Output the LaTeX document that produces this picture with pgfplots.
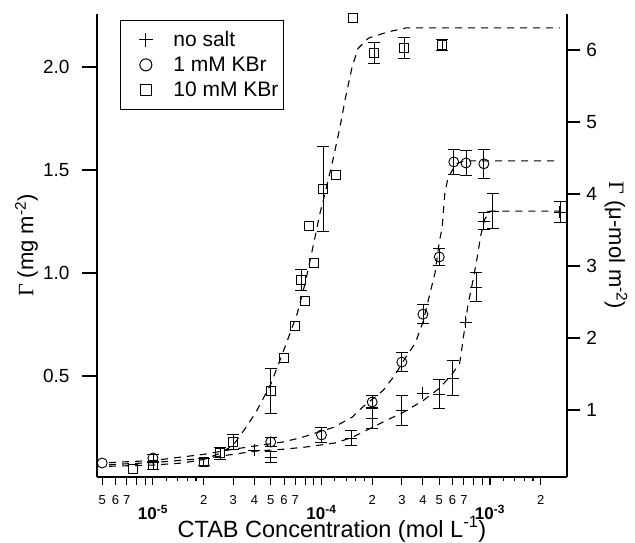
\documentclass[border=0pt]{standalone}
\usepackage{fontspec}
\setmainfont{Liberation Sans}
\newfontfamily\serifgam{Liberation Serif}
\usepackage{pgfplots}
\pgfplotsset{compat=1.18}
\usepackage{pgfplotstable}

% no salt
\pgfplotstableread{
x y e
5e-5 0.107 0.025
1.5e-4 0.199 0.035
2e-4 0.296 0.05
3e-4 0.335 0.073
5e-4 0.413 0.07
6e-4 0.49 0.085
8.3e-4 0.932 0.07
9.2e-4 1.252 0.04
1.04e-3 1.30 0.085
2.6e-3 1.296 0.05
}\nosaltE
\pgfplotstableread{
x y
4e-5 0.141
4e-4 0.417
7.2e-4 0.762
}\nosalt

% 1 mM KBr
\pgfplotstableread{
x y e
1e-5 0.102 0.02
5e-5 0.18 0.02
1e-4 0.214 0.035
2e-4 0.374 0.03
3e-4 0.568 0.045
4e-4 0.80 0.046
5e-4 1.078 0.04
6.1e-4 1.539 0.06
7.2e-4 1.534 0.06
9.2e-4 1.53 0.07
}\oneE
\pgfplotstableread{
x y
5e-6 0.078
}\one

% 10 mM KBr
\pgfplotstableread{
x y e
1e-5 0.068 0.02
2e-5 0.083 0.015
2.5e-5 0.126 0.03
3e-5 0.18 0.035
5e-5 0.427 0.11
7.6e-5 0.966 0.05
1.02e-4 1.408 0.205
2.05e-4 2.068 0.05
3.09e-4 2.092 0.05
5.19e-4 2.107 0.025
}\tenE
\pgfplotstableread{
x y
7.6e-6 0.049
6e-5 0.587
7e-5 0.743
8e-5 0.864
8.4e-5 1.228
9e-5 1.049
1.22e-4 1.476
1.54e-4 2.238
}\ten

\newcommand\dec[1]{\raisebox{-25pt}[0pt][0pt]{\fontsize{17}{17}\selectfont\bfseries 10\textsuperscript{#1}}}

\begin{document}
\begin{tikzpicture}
\pgfplotsset{
  fitline/.style={black, line width=1.1pt, dash pattern=on 7pt off 6pt},
  pts/.style={black, only marks, line width=0.9pt, mark options={fill=white, solid}},
  ebar/.style={error bars/.cd, y dir=both, y explicit,
    error mark options={rotate=90, mark size=6pt, line width=0.8pt},
    error bar style={line width=0.8pt, solid}},
}
\begin{axis}[
  name=ax,
  scale only axis, width=470pt, height=463pt,
  xmode=log, xmin=4.656e-6, xmax=2.864e-3,
  ymin=0.010, ymax=2.257,
  axis x line*=bottom, axis y line*=left,
  axis line style={line width=1.6pt},
  tick align=outside,
  tick style={black, line width=1.1pt},
  major tick length=15pt,
  x tick style={/pgfplots/major tick length=8pt},
  minor tick length=4pt,
  ytick={0.5,1.0,1.5,2.0},
  yticklabels={0.5,1.0,1.5,2.0},
  y tick label style={font=\fontsize{19}{19}\selectfont, xshift=-9pt},
  xtick={5e-6,6e-6,7e-6,8e-6,9e-6,2e-5,3e-5,4e-5,5e-5,6e-5,7e-5,8e-5,9e-5,2e-4,3e-4,4e-4,5e-4,6e-4,7e-4,8e-4,9e-4,2e-3},
  xticklabels={5,6,7,{},{},2,3,4,5,6,7,{},{},2,3,4,5,6,7,{},{},2},
  x tick label style={font=\fontsize{13}{13}\selectfont},
  minor xtick={1.2e-5,1.4e-5,1.6e-5,1.8e-5,1.2e-4,1.4e-4,1.6e-4,1.8e-4,1.2e-3,1.4e-3,1.6e-3,1.8e-3},
  extra x ticks={1e-5,1e-4,1e-3},
  extra x tick labels={\dec{-5},\dec{-4},\dec{-3}},
  extra x tick style={/pgfplots/major tick length=14pt},
  /pgf/number format/assume math mode=true,
  xlabel={CTAB Concentration (mol L\textsuperscript{-1})},
  xlabel style={font=\fontsize{23.5}{23.5}\selectfont, at={(axis description cs:0.5,-0.1296)}, anchor=base},
  ylabel={{\serifgam Γ} (mg m\textsuperscript{-2})},
  ylabel style={font=\fontsize{22}{22}\selectfont, at={(axis description cs:-0.150,0.5)}, anchor=center},
  legend style={at={(axis description cs:0.049,0.987)}, anchor=north west,
    draw=black, line width=0.7pt, font=\fontsize{21}{21}\selectfont,
    inner xsep=3pt, inner ysep=7pt, row sep=0pt, column sep=15pt,
    nodes={inner sep=2pt, text height=17pt, text depth=4pt}},
  legend image code/.code={\draw[#1] plot coordinates {(22pt,0pt)}; \path (0pt,0pt) (32pt,0pt);},
  legend cell align=left,
  clip=false,
]
\addlegendimage{only marks, mark=+, mark size=7pt, line width=1pt, black}
\addlegendentry{no salt}
\addlegendimage{only marks, mark=o, mark size=6pt, line width=1pt, black}
\addlegendentry{1 mM KBr}
\addlegendimage{only marks, mark=square, mark size=5.5pt, line width=1pt, black}
\addlegendentry{10 mM KBr}

% fitted curves
\addplot[fitline, forget plot] coordinates {
(5.5e-6,0.070) (1e-5,0.080) (2e-5,0.100) (3e-5,0.120) (4e-5,0.135) (6e-5,0.145)
(8e-5,0.155) (1.2e-4,0.175) (1.5e-4,0.200) (2e-4,0.250) (2.5e-4,0.290) (3e-4,0.320)
(4e-4,0.380) (5e-4,0.440) (5.9e-4,0.505) (6.6e-4,0.560) (6.8e-4,0.630) (7.4e-4,0.845)
(8.0e-4,0.980) (8.5e-4,1.100) (8.8e-4,1.180) (9.3e-4,1.260) (1.0e-3,1.300) (2.6e-3,1.300)
};
\addplot[fitline, forget plot] coordinates {
(5.5e-6,0.080) (1e-5,0.090) (2e-5,0.120) (3e-5,0.145) (5.9e-5,0.180) (7.5e-5,0.200)
(1.17e-4,0.250) (1.52e-4,0.300) (1.76e-4,0.350) (2.32e-4,0.430) (2.73e-4,0.505)
(3.1e-4,0.580) (3.6e-4,0.660) (4.0e-4,0.760) (4.4e-4,0.900) (4.72e-4,1.000)
(5.0e-4,1.150) (5.2e-4,1.220) (5.4e-4,1.390) (5.6e-4,1.450) (5.85e-4,1.485)
(6.3e-4,1.530) (7e-4,1.544) (2.6e-3,1.544)
};
\addplot[fitline, forget plot] coordinates {
(5.5e-6,0.062) (1e-5,0.068) (1.5e-5,0.078) (2e-5,0.095) (2.5e-5,0.125) (3e-5,0.165)
(3.56e-5,0.250) (4.09e-5,0.325) (5e-5,0.460) (6.2e-5,0.660) (7.2e-5,0.806) (8e-5,0.950)
(8.9e-5,1.126) (9.8e-5,1.290) (1.06e-4,1.400) (1.17e-4,1.550) (1.29e-4,1.710)
(1.38e-4,1.840) (1.52e-4,2.000) (1.65e-4,2.090) (1.9e-4,2.140) (2.48e-4,2.170)
(3.2e-4,2.190) (2.6e-3,2.190)
};

% no salt
\addplot[pts, mark=+, mark size=6pt, forget plot, ebar] table[x=x, y=y, y error=e] {\nosaltE};
\addplot[pts, mark=+, mark size=6pt, forget plot] table[x=x, y=y] {\nosalt};
% 1 mM KBr
\addplot[pts, mark=o, mark size=5pt, forget plot, ebar] table[x=x, y=y, y error=e] {\oneE};
\addplot[pts, mark=o, mark size=5pt, forget plot] table[x=x, y=y] {\one};
% 10 mM KBr
\addplot[pts, mark=square, mark size=4.5pt, forget plot, ebar] table[x=x, y=y, y error=e] {\tenE};
\addplot[pts, mark=square, mark size=4.5pt, forget plot] table[x=x, y=y] {\ten};
\end{axis}

\begin{axis}[
  scale only axis, width=470pt, height=463pt,
  xmode=log, xmin=4.656e-6, xmax=2.864e-3,
  ymin=0.069, ymax=6.5,
  hide x axis,
  axis y line*=right,
  axis line style={line width=1.6pt},
  tick align=outside,
  tick style={black, line width=1.1pt},
  major tick length=13pt,
  ytick={1,2,3,4,5,6},
  yticklabels={1,2,3,4,5,6},
  /pgf/number format/assume math mode=true,
  y tick label style={font=\fontsize{19}{19}\selectfont, xshift=3pt},
  ylabel={{\serifgam Γ} (μ-mol m\textsuperscript{-2})},
  ylabel style={font=\fontsize{22}{22}\selectfont, at={(axis description cs:1.104,0.5)}, anchor=center, rotate=180},
]
\end{axis}
\pgfresetboundingbox
\path ([shift={(-97pt,-65pt)}]ax.south west) rectangle ++(635pt,542pt);
\end{tikzpicture}
\end{document}
